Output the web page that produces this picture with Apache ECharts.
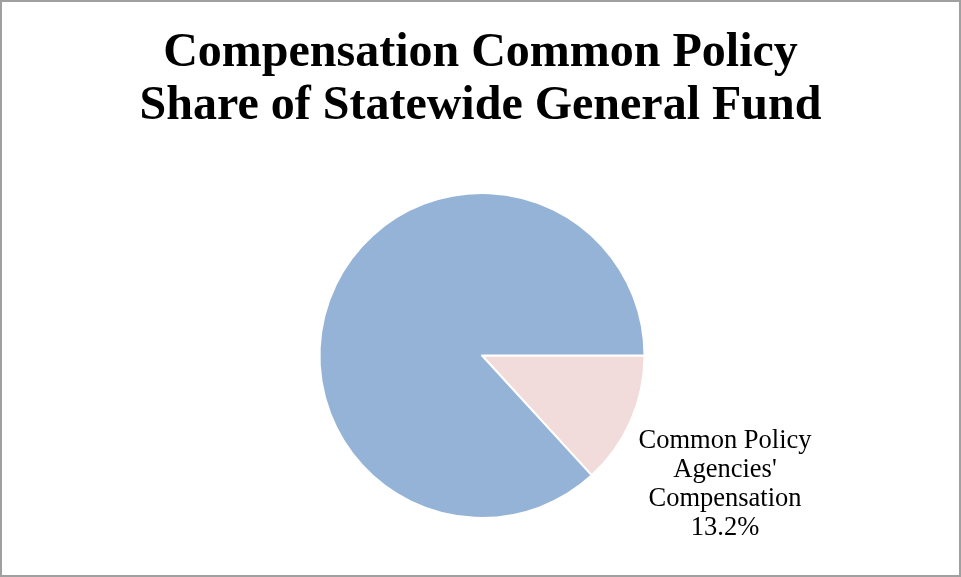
<!DOCTYPE html>
<html>
<head>
<meta charset="utf-8">
<script src="https://cdn.jsdelivr.net/npm/echarts@6/dist/echarts.min.js"></script>
<style>
html,body{margin:0;padding:0;background:#fff;}
#c{width:961px;height:577px;box-sizing:border-box;border:2px solid #a0a0a0;}
</style>
</head>
<body>
<div id="c"></div>
<script>
const titleLines = ["Compensation Common Policy", "Share of Statewide General Fund"];
const categories = ["Common Policy\nAgencies'\nCompensation", "Other General Fund"];
const values = [13.2, 86.8];
const colors = ["#F2DCDB", "#95B3D7"];

const chart = echarts.init(document.getElementById('c'), null, {renderer: 'canvas'});
chart.setOption({
  animation: false,
  backgroundColor: '#fff',
  title: {
    text: titleLines.join('\n'),
    left: 'center',
    top: 20,
    textStyle: {
      fontFamily: '"Liberation Serif", "Times New Roman", serif',
      fontWeight: 'bold',
      fontSize: 48,
      lineHeight: 53,
      color: '#000'
    }
  },
  series: [{
    type: 'pie',
    center: [480, 353.5],
    radius: 162.5,
    startAngle: 0,
    clockwise: true,
    data: categories.map((c, i) => ({
      name: c,
      value: values[i],
      itemStyle: {color: colors[i]},
      label: {show: i === 0}
    })),
    itemStyle: {borderColor: '#fff', borderWidth: 2},
    label: {
      position: 'outside',
      formatter: p => p.name + '\n' + p.value.toFixed(1) + '%',
      fontFamily: '"Liberation Serif", "Times New Roman", serif',
      fontSize: 26.5,
      lineHeight: 29,
      color: '#000',
      align: 'center'
    },
    labelLine: {show: false},
    labelLayout: function (params) {
      return {x: 723, y: 483, align: 'center', verticalAlign: 'middle'};
    },
    emphasis: {disabled: true}
  }]
});
</script>
</body>
</html>
